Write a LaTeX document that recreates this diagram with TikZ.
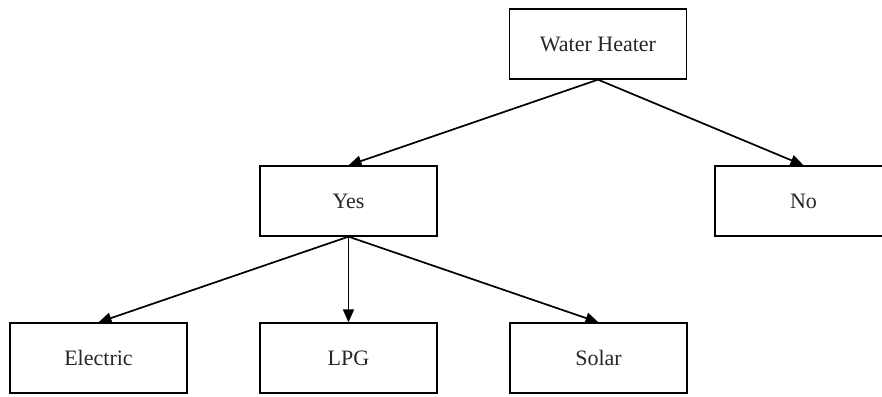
\documentclass[tikz,border=0pt]{standalone}
\usepackage{fontspec}
\setmainfont{Liberation Serif}
\usetikzlibrary{arrows.meta}
\begin{document}
\begin{tikzpicture}[x=1pt,y=-1pt,
  box/.style={draw=black,line width=1.3pt,minimum width=177pt,minimum height=70pt,inner sep=0pt,font=\fontsize{22}{26}\selectfont,text=black!85},
  link/.style={line width=1.7pt,-{Triangle[length=13pt,width=11pt]}}]
\useasboundingbox (0,0) rectangle (882,396);
\clip (0,0) rectangle (882,396);
\node[box] (wh) at (598,44) {Water Heater};
\node[box] (yes) at (348.5,201) {Yes};
\node[box] (no) at (803.5,201) {No};
\node[box] (el) at (98.5,358) {Electric};
\node[box] (lpg) at (348.5,358) {LPG};
\node[box] (sol) at (598.5,358) {Solar};
\draw[link] (wh.south) -- (yes.north);
\draw[link] (wh.south) -- (no.north);
\draw[link] (yes.south) -- (el.north);
\draw[link] (yes.south) -- (lpg.north);
\draw[link] (yes.south) -- (sol.north);
\end{tikzpicture}
\end{document}
